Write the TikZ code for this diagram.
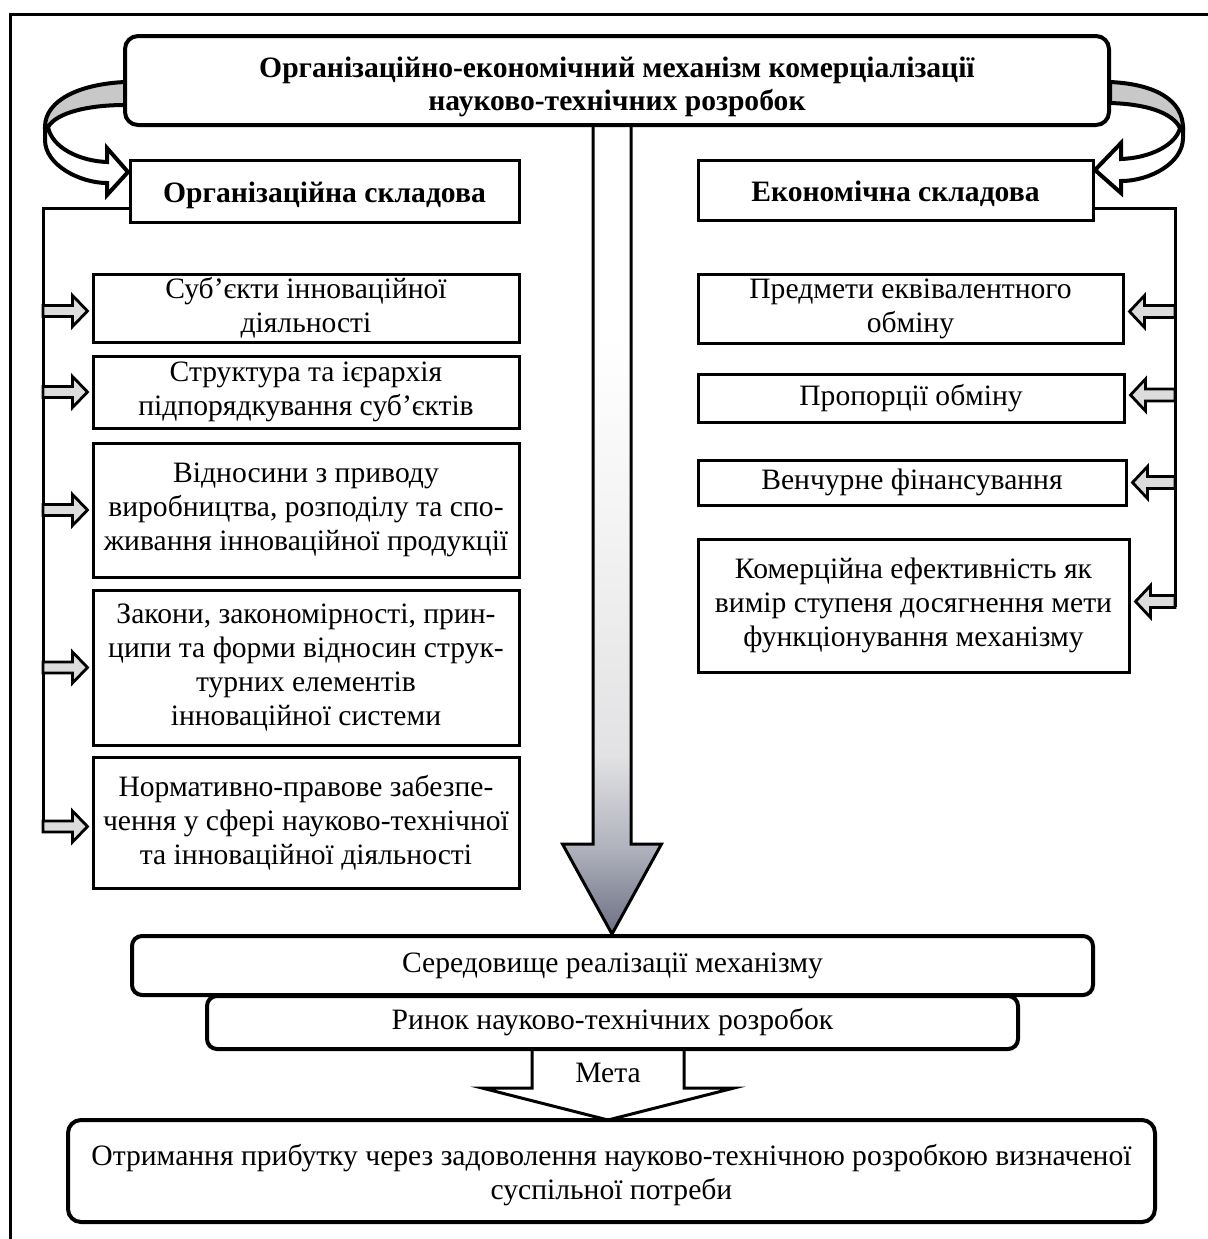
\documentclass[tikz,border=0pt]{standalone}
\usepackage{fontspec}
\setmainfont{Liberation Serif}
\usetikzlibrary{calc,fit}
\definecolor{bandgray}{HTML}{C8C8C8}
\definecolor{smallgray}{HTML}{DCDCDC}
\definecolor{ardark}{HTML}{6C7084}
\definecolor{armid}{HTML}{B2B4BE}
\definecolor{arlight}{HTML}{E2E2E4}
\definecolor{arpale}{HTML}{F3F3F3}
\pgfdeclareverticalshading{bigarrowshade}{100bp}{color(0bp)=(ardark); color(25bp)=(ardark); color(30.5bp)=(armid); color(36bp)=(arlight); color(50bp)=(arpale); color(62bp)=(white); color(100bp)=(white)}
\newcommand\arrR[2]{\draw[smallblk] let \p1=#1, \p2=#2 in
  (\x1,\y1+2.75pt) -- (\x2-7.5pt,\y1+2.75pt) -- (\x2-7.5pt,\y1+7.75pt) -- (\x2,\y1)
  -- (\x2-7.5pt,\y1-7.75pt) -- (\x2-7.5pt,\y1-2.75pt) -- (\x1,\y1-2.75pt) -- cycle;}
\newcommand\arrL[2]{\draw[smallblk] let \p1=#1, \p2=#2 in
  (\x1,\y1+3pt) -- (\x2+7.5pt,\y1+3pt) -- (\x2+7.5pt,\y1+8pt) -- (\x2,\y1)
  -- (\x2+7.5pt,\y1-8pt) -- (\x2+7.5pt,\y1-3pt) -- (\x1,\y1-3pt) -- cycle;}
% box: name, style, corner1, corner2, text
\newcommand\bx[5]{\node[#2, fit={#3 #4}] (#1) {};
  \node[plain, align=center] (#1-t) at (#1.center) {#5};}
\newcommand\bbx[6]{\node[#2, fit={#3 #4}] (#1) {};
  \node[plain, align=center, font=\fontsize{14.8pt}{16.5pt}\selectfont\bfseries] (#1-t) at ($(#1.center)+(0,#6)$) {#5};}
\begin{document}
\begin{tikzpicture}[x=0.5pt,y=-0.5pt,
  every node/.style={font=\fontsize{14.8pt}{17pt}\selectfont},
  sbox/.style={draw, line width=1.5pt, inner sep=0pt, fill=white},
  rbox/.style={draw, line width=2pt, inner sep=0pt, rounded corners=6.5pt},
  bus/.style={line width=1.5pt},
  smallblk/.style={draw, line width=1.4pt, fill=smallgray, line join=miter},
  curvearrow/.style={draw, line width=2pt, line join=miter},
  plain/.style={draw=none, fill=none, inner sep=0pt}]
\useasboundingbox (0,0) rectangle (1208,1239);
% frame
\draw[line width=1.5pt] (10,1239) -- (10,14) -- (1208,14);

% curved arrows (left)
\draw[curvearrow, fill=bandgray] (125,82) .. controls (80,84) and (45,100) .. (45,127)
  -- (48,127) .. controls (57,112) and (90,105) .. (125,105) -- cycle;
\draw[curvearrow, fill=white] (45,127) -- (45,140) .. controls (45,165) and (80,183) .. (107,183)
  -- (107,195) -- (128,172) -- (107,148) -- (107,162)
  .. controls (80,161) and (52,148) .. (48,127) -- cycle;
% curved arrows (right)
\draw[curvearrow, fill=bandgray] (1110,82) .. controls (1155,84) and (1183,100) .. (1183,128)
  -- (1180,128) .. controls (1172,112) and (1145,104) .. (1110,103) -- cycle;
\draw[curvearrow, fill=white] (1183,128) -- (1183,138) .. controls (1183,163) and (1150,181) .. (1121,181)
  -- (1121,193) -- (1095,170) -- (1121,143) -- (1121,159)
  .. controls (1150,158) and (1176,145) .. (1180,128) -- cycle;

% big central arrow
\coordinate (bigtop) at (612,125);
\coordinate (bigtip) at (612,934);
\path[draw, line width=1.5pt, shading=bigarrowshade, line join=miter] let \p1=(bigtop), \p2=(bigtip) in
  (\x1-9.5pt,\y1) -- (\x1-9.5pt,\y2+45pt) -- (\x1-24.75pt,\y2+45pt) -- (\x2,\y2)
  -- (\x1+24.75pt,\y2+45pt) -- (\x1+9.5pt,\y2+45pt) -- (\x1+9.5pt,\y1) -- cycle;

% title
\bbx{title}{rbox, fill=white}{(125,36)}{(1109,125)}{Організаційно-економічний механізм комерціалізації\\науково-технічних розробок}{6}

% main components
\bbx{org}{sbox}{(130,160)}{(519,222)}{Організаційна складова}{4}
\bbx{econ}{sbox}{(698,160)}{(1093,220)}{Економічна складова}{4}

% left boxes
\bx{l1}{sbox}{(93,274)}{(519,342)}{Суб’єкти інноваційної\\діяльності}
\bx{l2}{sbox}{(93,356)}{(519,428)}{Структура та ієрархія\\підпорядкування суб’єктів}
\bx{l3}{sbox}{(93,443)}{(519,577)}{Відносини з приводу\\виробництва, розподілу та спо-\\живання інноваційної продукції}
\bx{l4}{sbox}{(93,590)}{(519,745)}{Закони, закономірності, прин-\\ципи та форми відносин струк-\\турних елементів\\інноваційної системи}
\bx{l5}{sbox}{(93,757)}{(519,888)}{Нормативно-правове забезпе-\\чення у сфері науково-технічної\\та інноваційної діяльності}

% right boxes
\bx{r1}{sbox}{(698,274)}{(1123,343)}{Предмети еквівалентного\\обміну}
\bx{r2}{sbox}{(698,374)}{(1124,422)}{Пропорції обміну}
\bx{r3}{sbox}{(698,460)}{(1126,505)}{Венчурне фінансування}
\bx{r4}{sbox}{(698,539)}{(1129,672)}{Комерційна ефективність як\\вимір ступеня досягнення мети\\функціонування механізму}

% buses
\coordinate (busLtop) at (43,208);
\coordinate (busLbot) at (43,829);
\coordinate (busRtop) at (1175,208);
\coordinate (busRbot) at (1175,607);
\draw[bus] (org.west |- busLtop) -- (busLtop) -- (busLbot);
\draw[bus] (econ.east |- busRtop) -- (busRtop) -- (busRbot);

% small arrows
\arrR{($(busLtop |- l1.west)+(0,3)$)}{($(l1.west)+(-4,3)$)}
\arrR{(busLtop |- l2.west)}{($(l2.west)+(-4,0)$)}
\arrR{(busLtop |- l3.west)}{($(l3.west)+(-4,0)$)}
\arrR{(busLtop |- l4.west)}{($(l4.west)+(-4,0)$)}
\arrR{($(busLtop |- l5.west)+(0,4)$)}{($(l5.west)+(-4,4)$)}
\arrL{($(busRtop |- r1.east)+(0,3)$)}{($(r1.east)+(5,3)$)}
\arrL{($(busRtop |- r2.east)+(0,-3)$)}{($(r2.east)+(5,-3)$)}
\arrL{(busRtop |- r3.east)}{($(r3.east)+(5,0)$)}
\arrL{($(busRtop |- r4.east)+(0,-4)$)}{($(r4.east)+(5,-4)$)}

% meta arrow (behind boxes)
\coordinate (metatop) at (608,1049);
\coordinate (metatip) at (608,1120);
\draw[line width=1.5pt, fill=white, line join=miter] let \p1=(metatop), \p2=(metatip) in
  (\x1-38pt,\y1) -- (\x1-38pt,\y2+16pt) -- (\x1-63pt,\y2+16pt) -- (\x2,\y2)
  -- (\x1+63pt,\y2+16pt) -- (\x1+38pt,\y2+16pt) -- (\x1+38pt,\y1);
\node[plain] (meta) at (608,1073) {Мета};

% bottom boxes
\bx{env}{rbox, rounded corners=5pt}{(132,936)}{(1093,995)}{Середовище реалізації механізму}
\bx{market}{rbox, rounded corners=5pt}{(207,996)}{(1018,1049)}{Ринок науково-технічних розробок}
\node[rbox, fit={(68,1120) (1155,1222)}] (goal) {};
\node[plain, align=center] (goal-t) at ($(goal.center)+(0,4)$) {Отримання прибутку через задоволення науково-технічною розробкою визначеної\\суспільної потреби};
\end{tikzpicture}
\end{document}
